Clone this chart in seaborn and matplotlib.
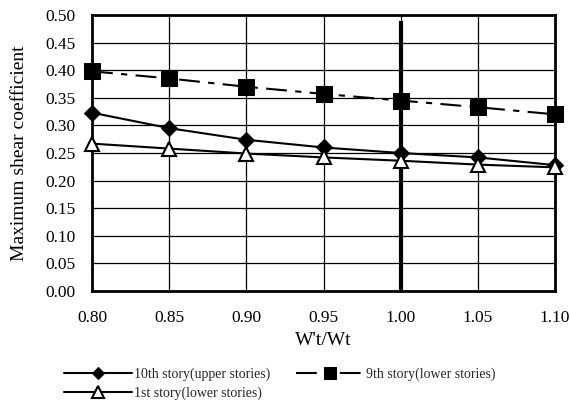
import numpy as np
import pandas as pd
import matplotlib
matplotlib.use("Agg")
import matplotlib.pyplot as plt
import seaborn as sns

x_vals = [0.80, 0.85, 0.90, 0.95, 1.00, 1.05, 1.10]
story10_upper = [0.323, 0.295, 0.274, 0.260, 0.250, 0.242, 0.228]
story9_lower = [0.398, 0.385, 0.370, 0.357, 0.345, 0.333, 0.320]
story1_lower = [0.267, 0.258, 0.249, 0.242, 0.236, 0.229, 0.224]
series_names = ["10th story(upper stories)", "9th story(lower stories)", "1st story(lower stories)"]
ref_x = 1.00
ref_top = 0.49

sns.set_theme(style="white")
plt.rcParams['font.family'] = ['Liberation Serif', 'DejaVu Serif']

fig = plt.figure(figsize=(5.7, 4.01), dpi=100)
ax = fig.add_axes([92/570, 1 - 291/401, (555-92)/570, (291-15)/401])

df10 = pd.DataFrame({"x": x_vals, "y": story10_upper})
df9 = pd.DataFrame({"x": x_vals, "y": story9_lower})
df1 = pd.DataFrame({"x": x_vals, "y": story1_lower})

ax.set_xlim(0.80, 1.10)
ax.set_ylim(0.0, 0.50)
ax.set_xticks(x_vals)
yt = np.round(np.arange(0, 0.501, 0.05), 2)
ax.set_yticks(yt)
ax.grid(True, color="black", linewidth=0.9, zorder=0)
ax.set_axisbelow(True)

ax.plot([ref_x, ref_x], [0, ref_top], color="black", linewidth=3, zorder=2, solid_capstyle="butt")

sns.lineplot(data=df10, x="x", y="y", ax=ax, color="black", linewidth=1.5,
             marker="D", markersize=8, markerfacecolor="black", markeredgecolor="black",
             label=series_names[0], zorder=4, clip_on=False)
sns.lineplot(data=df9, x="x", y="y", ax=ax, color="black", linewidth=1.5,
             marker="s", markersize=11, markerfacecolor="black", markeredgecolor="black",
             label=series_names[1], zorder=4, clip_on=False)
sns.lineplot(data=df1, x="x", y="y", ax=ax, color="black", linewidth=1.5,
             marker="^", markersize=10, markerfacecolor="white", markeredgecolor="black",
             markeredgewidth=1.5, label=series_names[2], zorder=4, clip_on=False)
ax.lines[2].set_dashes((10, 4, 3, 4))

for s in ax.spines.values():
    s.set_visible(True)
    s.set_color("black")
    s.set_linewidth(2)

ax.tick_params(axis="both", which="both", length=0, labelsize=12.5, colors="black")
ax.tick_params(axis="y", pad=12)
ax.tick_params(axis="x", pad=14)
ax.set_xticklabels([f"{v:.2f}" for v in x_vals])
ax.set_yticklabels([f"{v:.2f}" for v in yt])
ax.set_xlabel("W't/Wt", fontsize=14, color="black", labelpad=4)
ax.set_ylabel("Maximum shear coefficient", fontsize=14, color="black", labelpad=12)

handles, labels = ax.get_legend_handles_labels()
if ax.get_legend():
    ax.get_legend().remove()
order = [0, 2, 1]
leg = fig.legend([handles[i] for i in order], [labels[i] for i in order],
                 loc="lower left", bbox_to_anchor=(58/570, -0.012), ncol=2,
                 frameon=False, fontsize=10, handlelength=4.9, handletextpad=0.2,
                 columnspacing=1.8, labelspacing=0.4, borderaxespad=0.0,
                 markerscale=0.8)

fig.savefig("out.png", dpi=100, facecolor="white")
